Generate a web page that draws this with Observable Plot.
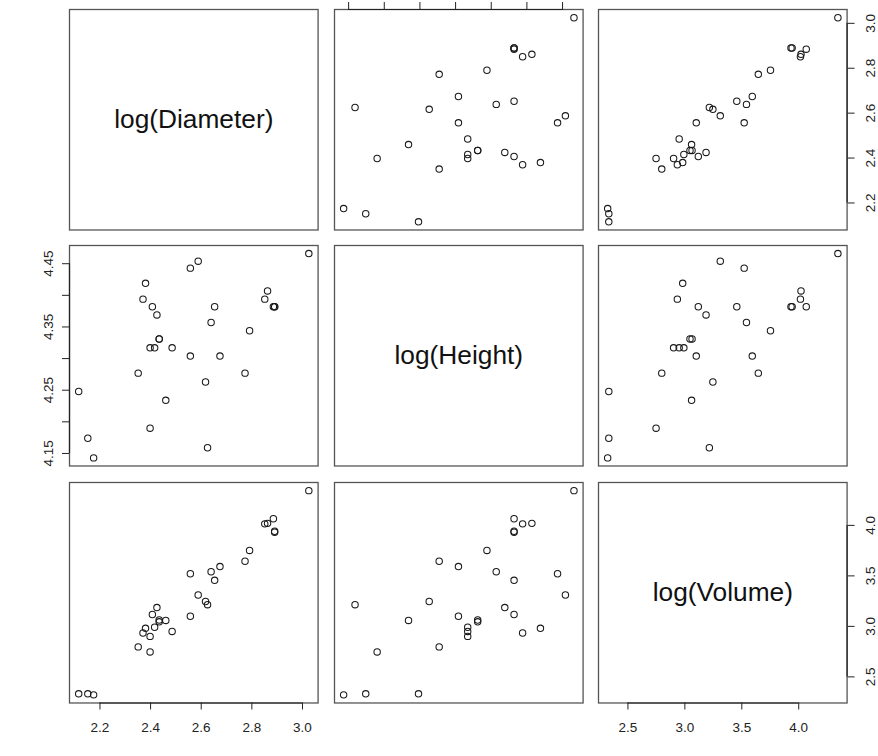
<!DOCTYPE html>
<html>
<head>
<meta charset="utf-8">
<script src="https://cdn.jsdelivr.net/npm/d3@7"></script>
<script src="https://cdn.jsdelivr.net/npm/@observablehq/plot@0.6"></script>
<style>
  html, body { margin: 0; padding: 0; background: #fff; }
  #chart { position: relative; width: 878px; height: 756px; overflow: hidden; background: #fff; font-family: "Liberation Sans", Arial, sans-serif; }
  #chart svg { position: absolute; }
</style>
</head>
<body>
<div id="chart"></div>
<script>
// Data: log values of the trees data set (31 trees)
const logDiameter = [2.116,2.152,2.175,2.351,2.370,2.380,2.398,2.398,2.407,2.416,2.425,2.434,2.434,2.460,2.485,2.557,2.557,2.588,2.617,2.625,2.639,2.653,2.674,2.773,2.791,2.851,2.862,2.885,2.890,2.890,3.025];
const logHeight   = [4.248,4.174,4.143,4.277,4.394,4.419,4.190,4.317,4.382,4.317,4.369,4.331,4.331,4.234,4.317,4.304,4.443,4.454,4.263,4.159,4.357,4.382,4.304,4.277,4.344,4.394,4.407,4.382,4.382,4.382,4.466];
const logVolume   = [2.332,2.332,2.322,2.797,2.934,2.981,2.747,2.901,3.118,2.991,3.186,3.045,3.063,3.059,2.950,3.100,3.521,3.311,3.246,3.215,3.541,3.456,3.592,3.645,3.752,4.015,4.020,4.066,3.942,3.932,4.344];

const varNames = ["log(Diameter)", "log(Height)", "log(Volume)"];
const diameterTicks = [2.2, 2.4, 2.6, 2.8, 3.0];
const heightTicks = [4.15, 4.20, 4.25, 4.30, 4.35, 4.40, 4.45];
const heightTickLabels = [4.15, 4.25, 4.35, 4.45];
const volumeTicks = [2.5, 3.0, 3.5, 4.0];

const series = [logDiameter, logHeight, logVolume];
const domains = [[2.0797, 3.0616], [4.1302, 4.4788], [2.2415, 4.4247]];
const tickSets = [diameterTicks, heightTicks, volumeTicks];
const labelSets = [diameterTicks, heightTickLabels, volumeTicks];
const fmt = [d => d.toFixed(1), d => d.toFixed(2), d => d.toFixed(1)];

// layout
const colLeft = [69.3, 334.3, 598.3];
const rowTop = [9.2, 245.2, 482.2];
const W = 248.6, H = 220.5, M = 40;
const FONT = "Liberation Sans, Arial, Helvetica, sans-serif";

const rows = logDiameter.map((_, k) => ({d: logDiameter[k], h: logHeight[k], v: logVolume[k]}));

const chart = document.getElementById("chart");

for (let i = 0; i < 3; i++) {
  for (let j = 0; j < 3; j++) {
    const marks = [];
    const xd = domains[j], yd = domains[i];
    if (i === j) {
      marks.push(Plot.text([varNames[i]], {frameAnchor: "middle", text: d => d, fontSize: 26.3, fill: "#111", fontFamily: FONT}));
    } else {
      marks.push(Plot.dot(rows, {x: r => series[j][rows.indexOf(r)], y: r => series[i][rows.indexOf(r)], r: 3.2, stroke: "#1a1a1a", strokeWidth: 1.05, fill: "none"}));
    }
    marks.push(Plot.frame({stroke: "#555", strokeWidth: 1.3}));

    // bottom axes: columns 1 and 3 on the last row
    if (i === 2 && (j === 0 || j === 2)) {
      const t = tickSets[j];
      marks.push(Plot.axisX(t, {anchor: "bottom", tickSize: 7, tickPadding: 12, tickFormat: fmt[j], fontSize: 13.5, fill: "#222", stroke: "#222", fontFamily: FONT}));
      marks.push(Plot.ruleY([yd[0]], {x1: t[0], x2: t[t.length - 1], stroke: "#222", strokeWidth: 1.2}));
    }
    // top axis: column 2 on the first row (labels fall outside the picture)
    if (i === 0 && j === 1) {
      const t = tickSets[j];
      marks.push(Plot.axisX(t, {anchor: "top", tickSize: 8, text: null, stroke: "#222"}));
      marks.push(Plot.ruleY([yd[1]], {x1: t[0], x2: t[t.length - 1], stroke: "#222", strokeWidth: 1.2}));
    }
    // left axis: row 2 on column 1
    if (i === 1 && j === 0) {
      const t = tickSets[i];
      marks.push(Plot.axisY(t, {anchor: "left", tickSize: 7, text: null, stroke: "#222"}));
      marks.push(Plot.ruleX([xd[0]], {y1: t[0], y2: t[t.length - 1], stroke: "#222", strokeWidth: 1.2}));
      marks.push(Plot.text(labelSets[i], {y: d => d, text: fmt[i], frameAnchor: "left", dx: -21, rotate: -90, textAnchor: "middle", fontSize: 13.5, fill: "#222", fontFamily: FONT}));
    }
    // right axes: rows 1 and 3 on column 3
    if (j === 2 && (i === 0 || i === 2)) {
      const t = tickSets[i];
      marks.push(Plot.axisY(t, {anchor: "right", tickSize: 7, text: null, stroke: "#222"}));
      marks.push(Plot.ruleX([xd[1]], {y1: t[0], y2: t[t.length - 1], stroke: "#222", strokeWidth: 1.2}));
      marks.push(Plot.text(labelSets[i], {y: d => d, text: fmt[i], frameAnchor: "right", dx: 24, rotate: -90, textAnchor: "middle", fontSize: 13.5, fill: "#222", fontFamily: FONT}));
    }

    const svg = Plot.plot({
      width: W + 2 * M,
      height: H + 2 * M,
      marginLeft: M, marginRight: M, marginTop: M, marginBottom: M,
      style: {background: "transparent", overflow: "visible", fontFamily: FONT},
      x: {domain: xd, axis: null},
      y: {domain: yd, axis: null},
      marks
    });
    svg.style.left = (colLeft[j] - M) + "px";
    svg.style.top = (rowTop[i] - M) + "px";
    chart.appendChild(svg);
  }
}
</script>
</body>
</html>
